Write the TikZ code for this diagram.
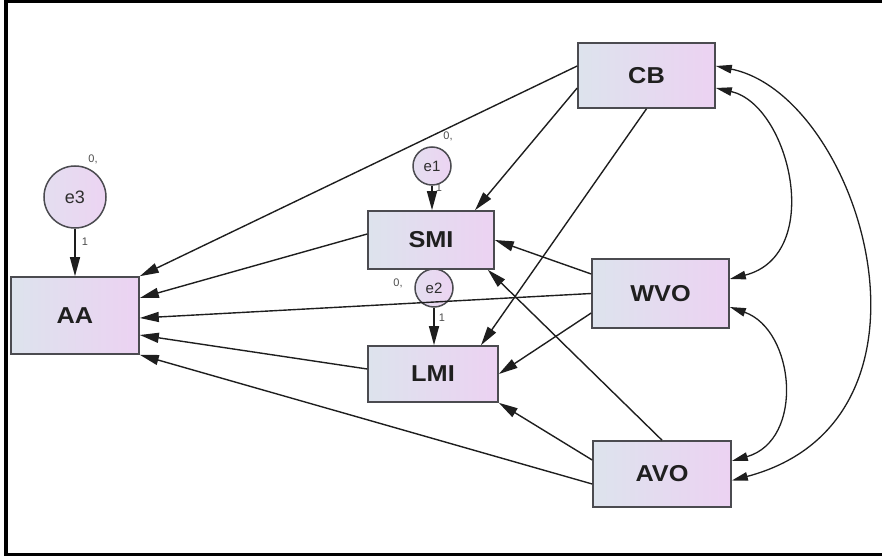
\documentclass[tikz,border=0pt]{standalone}
\usepackage{fontspec}
\setmainfont{Liberation Sans}
\usetikzlibrary{arrows.meta,calc}
\definecolor{boxL}{RGB}{221,227,237}
\definecolor{boxR}{RGB}{236,210,242}
\definecolor{cirL}{RGB}{228,222,240}
\definecolor{cirR}{RGB}{236,212,242}
\definecolor{lc}{RGB}{30,30,30}
\definecolor{bc}{RGB}{75,75,80}
\newcommand{\widetext}[1]{\scalebox{1.1}[1]{#1}}
\begin{document}
\begin{tikzpicture}[x=1pt,y=-1pt,
  var/.style={draw=bc,line width=1.6pt,left color=boxL,right color=boxR,
    font=\fontsize{23}{23}\selectfont\bfseries,text=black!88,inner sep=0pt},
  err/.style={circle,draw=bc,line width=1.5pt,left color=cirL,right color=cirR,
    text=black!82,inner sep=0pt},
  path/.style={draw=lc,line width=1.4pt,-{Triangle[length=19pt,width=10pt]}},
  cov/.style={draw=lc,line width=1.3pt,{Triangle[length=16pt,width=8.5pt]}-{Triangle[length=16pt,width=8.5pt]}},
  small/.style={font=\fontsize{11}{11}\selectfont,text=black!70,inner sep=0pt}]
\useasboundingbox (0,0) rectangle (882,556);
% frame
\draw[line width=3.5pt,black] (895,1.5) -- (6,1.5) -- (6,554.5) -- (895,554.5);

% observed variables
\node[var,minimum width=137pt,minimum height=65pt] (CB)  at (646.5,75.5) {\widetext{CB}};
\node[var,minimum width=128pt,minimum height=77pt] (AA)  at (75,315.5)   {\widetext{AA}};
\node[var,minimum width=126pt,minimum height=58pt] (SMI) at (431,240)    {\widetext{SMI}};
\node[var,minimum width=130pt,minimum height=56pt] (LMI) at (433,374)    {\widetext{LMI}};
\node[var,minimum width=137pt,minimum height=69pt] (WVO) at (660.5,293.5){\widetext{WVO}};
\node[var,minimum width=138pt,minimum height=66pt] (AVO) at (662,474)    {\widetext{AVO}};

% error terms
\node[err,minimum size=62pt,font=\fontsize{18}{18}\selectfont] (e3) at (75,197) {e3};
\node[err,minimum size=38pt,font=\fontsize{15}{15}\selectfont] (e1) at (432,166) {e1};
\node[err,minimum size=38pt,font=\fontsize{15}{15}\selectfont] (e2) at (434,288) {e2};

% small labels
\node[small] (l0a) at (93,159) {0,};
\node[small] (l0b) at (448,136) {0,};
\node[small] (l0c) at (398,283) {0,};
\node[small] (l1a) at (85,242) {1};
\node[small] (l1b) at (439,188) {1};
\node[small] (l1c) at (442,318) {1};

% error paths
\draw[path] (e3.south) -- (AA.north);
\draw[path] (e1.south) -- (SMI.north -| e1.south);
\draw[path] (e2.south) -- (LMI.north -| e2.south);

% regression paths
\draw[path] ([yshift=9.5pt]CB.west) -- (AA.north east);
\draw[path] ([yshift=-12.5pt]CB.west) -- ([xshift=44pt]SMI.north);
\draw[path] (CB.south) -- ([xshift=48pt]LMI.north);
\draw[path] ([yshift=19.5pt]WVO.west) -- (SMI.east);
\draw[path] (WVO.west) -- ([yshift=-2.5pt]AA.east);
\draw[path] ([yshift=-19.5pt]WVO.west) -- (LMI.east);
\draw[path] (AVO.north) -- ([xshift=-7pt]SMI.south east);
\draw[path] ([yshift=14pt]AVO.west) -- (LMI.south east);
\draw[path] ([yshift=-10pt]AVO.west) -- (AA.south east);
\draw[path] ([yshift=6pt]SMI.west) -- ([yshift=17.5pt]AA.east);
\draw[path] ([yshift=5pt]LMI.west) -- ([yshift=-19.5pt]AA.east);

% covariances
\draw[cov] ([yshift=-12.5pt]CB.east) .. controls (790,105) and (825,255) .. ([yshift=14.5pt]WVO.east);
\draw[cov] ([yshift=9.5pt]CB.east) .. controls (860,95) and (960,420) .. ([yshift=-6.5pt]AVO.east);
\draw[cov] ([yshift=-13.5pt]WVO.east) .. controls (795,330) and (805,440) .. ([yshift=13pt]AVO.east);
\end{tikzpicture}
\end{document}
